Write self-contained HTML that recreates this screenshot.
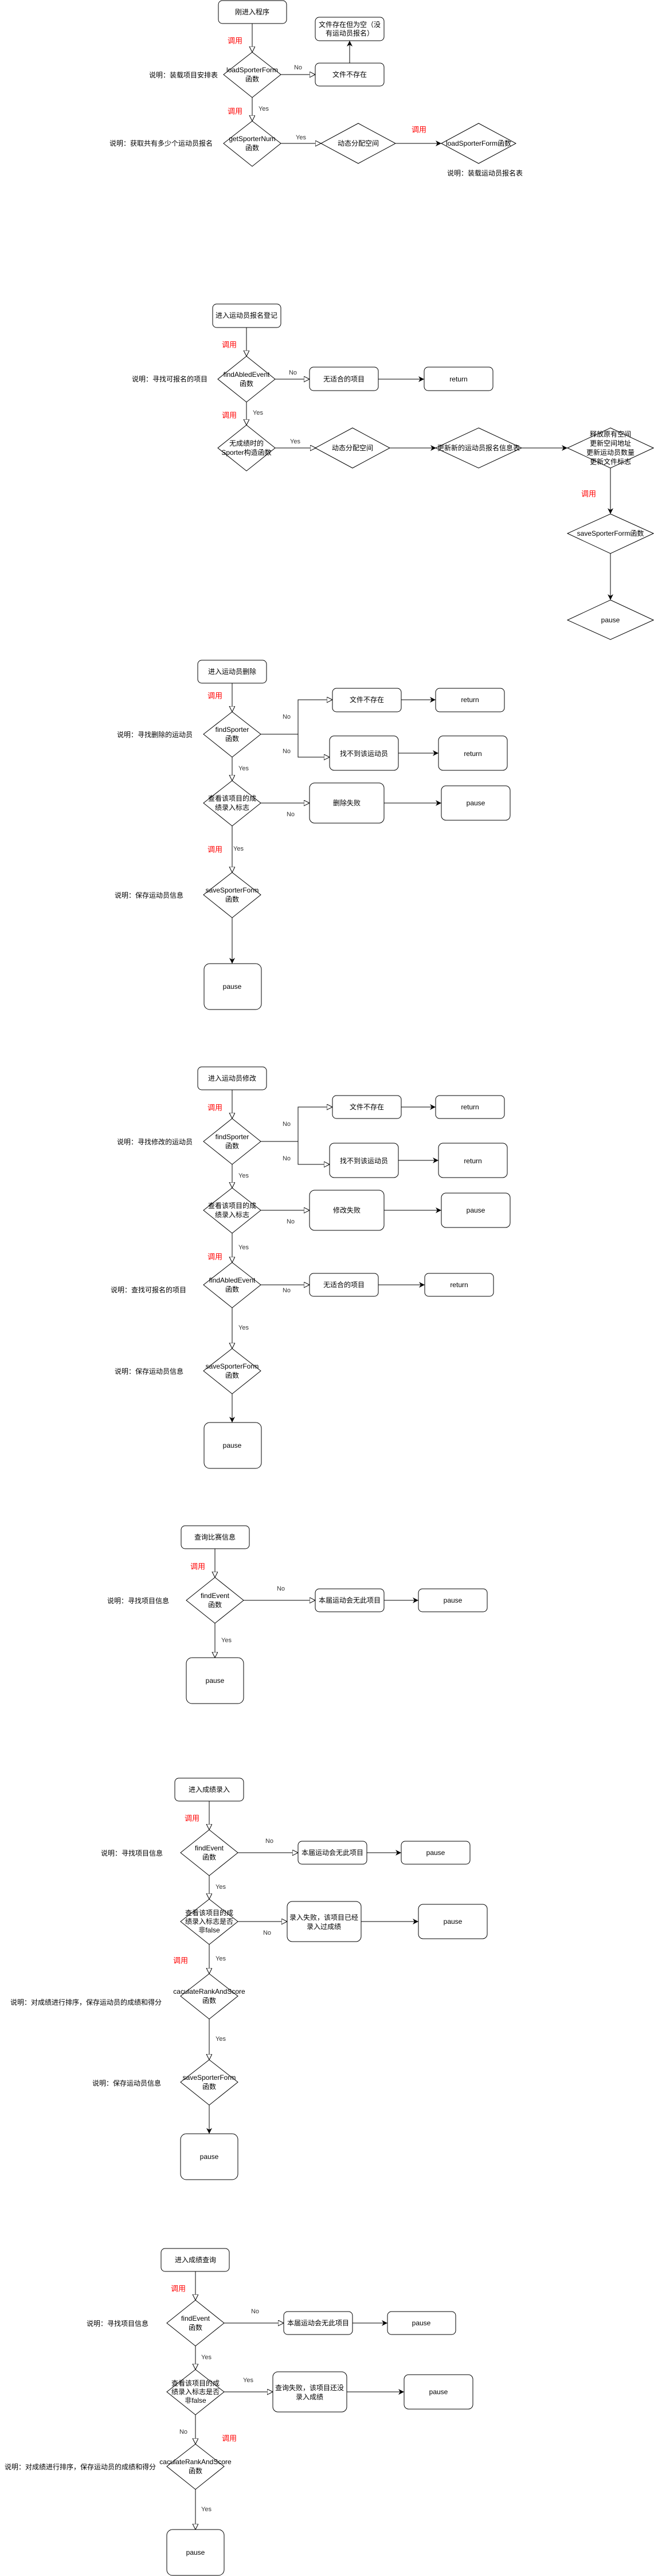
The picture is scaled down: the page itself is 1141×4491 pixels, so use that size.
<!DOCTYPE html>
<html><head><meta charset="utf-8"><style>
html,body{margin:0;padding:0;background:#fff;}
svg{display:block;}
text{font-family:"Liberation Sans","Noto Sans CJK SC",sans-serif;font-size:12px;fill:#000;dominant-baseline:central;}
.c{text-anchor:middle;}
.e{text-anchor:end;}
.r{fill:#ff0000;font-size:13px;}
.l{fill:#333;font-size:11px;}
.s{fill:none;stroke:#000;stroke-width:1;}
.b{fill:#fff;stroke:#000;stroke-width:1;}
</style></head><body>
<svg width="1141" height="4491" viewBox="0 0 1141 4491" xmlns="http://www.w3.org/2000/svg">
<defs>
<marker id="h" markerUnits="userSpaceOnUse" markerWidth="12" markerHeight="12" refX="10" refY="5" orient="auto"><path d="M0,0 L10,5 L0,10 z" fill="#fff" stroke="#000" stroke-width="1"/></marker>
<marker id="f" markerUnits="userSpaceOnUse" markerWidth="12" markerHeight="12" refX="10" refY="5" orient="auto"><path d="M0,0 L10,5 L0,10 L3,5 z" fill="#000"/></marker>
</defs>

<!-- Section 1 -->
<rect class="b" x="381" y="1" width="119" height="40" rx="7"/><text class="c" x="440" y="21">刚进入程序</text>
<line class="s" x1="440" y1="41" x2="440" y2="91" marker-end="url(#h)"/><text class="c r" x="410" y="71">调用</text>
<polygon class="b" points="440,91 490,130 440,170 390,130"/><text class="c" x="440" y="122">loadSporterForm</text><text class="c" x="440" y="138">函数</text>
<text class="e" x="380" y="131">说明：装载项目安排表</text>
<line class="s" x1="490" y1="130" x2="550" y2="130" marker-end="url(#h)"/><text class="c l" x="520" y="118">No</text>
<rect class="b" x="550" y="110" width="120" height="40" rx="7"/><text class="c" x="610" y="130">文件不存在</text>
<line class="s" x1="610" y1="110" x2="610" y2="71" marker-end="url(#f)"/>
<rect class="b" x="550" y="30" width="120" height="41" rx="7"/><text class="c" x="610" y="43">文件存在但为空（没</text><text class="c" x="610" y="58">有运动员报名）</text>
<line class="s" x1="440" y1="170" x2="440" y2="211" marker-end="url(#h)"/><text class="c l" x="460" y="190">Yes</text><text class="c r" x="410" y="194">调用</text>
<polygon class="b" points="440,211 490,250 440,290 390,250"/><text class="c" x="440" y="242">getSporterNum</text><text class="c" x="440" y="258">函数</text>
<text class="e" x="371" y="250">说明：获取共有多少个运动员报名</text>
<line class="s" x1="490" y1="250" x2="560" y2="250" marker-end="url(#h)"/><text class="c l" x="525" y="240">Yes</text>
<polygon class="b" points="625,215 690,250 625,285 560,250"/><text class="c" x="625" y="250">动态分配空间</text>
<line class="s" x1="690" y1="250" x2="770" y2="250" marker-end="url(#f)"/><text class="c r" x="731" y="226">调用</text>
<polygon class="b" points="835,215 900,250 835,285 770,250"/><text class="c" x="835" y="250">loadSporterForm函数</text>
<text x="780" y="302">说明：装载运动员报名表</text>

<!-- Section 2 -->
<rect class="b" x="371" y="530" width="119" height="41" rx="7"/><text class="c" x="430" y="550">进入运动员报名登记</text>
<line class="s" x1="430" y1="571" x2="430" y2="621" marker-end="url(#h)"/><text class="c r" x="400" y="601">调用</text>
<polygon class="b" points="430,621 480,661 430,701 380,661"/><text class="c" x="430" y="653">findAbledEvent</text><text class="c" x="430" y="669">函数</text>
<text class="e" x="362" y="661">说明：寻找可报名的项目</text>
<line class="s" x1="480" y1="661" x2="540" y2="661" marker-end="url(#h)"/><text class="c l" x="511" y="650">No</text>
<rect class="b" x="540" y="640" width="120" height="41" rx="7"/><text class="c" x="600" y="661">无适合的项目</text>
<line class="s" x1="660" y1="661" x2="740" y2="661" marker-end="url(#f)"/>
<rect class="b" x="740" y="640" width="120" height="41" rx="7"/><text class="c" x="800" y="661">return</text>
<line class="s" x1="430" y1="701" x2="430" y2="741" marker-end="url(#h)"/><text class="c l" x="450" y="720">Yes</text><text class="c r" x="400" y="724">调用</text>
<polygon class="b" points="430,741 480,781 430,821 380,781"/><text class="c" x="430" y="773">无成绩时的</text><text class="c" x="430" y="789">Sporter构造函数</text>
<line class="s" x1="480" y1="781" x2="551" y2="781" marker-end="url(#h)"/><text class="c l" x="515" y="770">Yes</text>
<polygon class="b" points="615,746 680,781 615,816 550,781"/><text class="c" x="615" y="781">动态分配空间</text>
<line class="s" x1="680" y1="781" x2="761" y2="781" marker-end="url(#f)"/>
<polygon class="b" points="835,746 910,781 835,816 760,781"/><text class="c" x="835" y="781">更新新的运动员报名信息表</text>
<line class="s" x1="910" y1="781" x2="990" y2="781" marker-end="url(#f)"/>
<polygon class="b" points="1065,746 1140,781 1065,816 990,781"/>
<text class="c" x="1065" y="757">释放原有空间</text><text class="c" x="1065" y="773">更新空间地址</text><text class="c" x="1065" y="789">更新运动员数量</text><text class="c" x="1065" y="805">更新文件标志</text>
<line class="s" x1="1065" y1="816" x2="1065" y2="896" marker-end="url(#f)"/><text class="c r" x="1027" y="861">调用</text>
<polygon class="b" points="1065,896 1140,930 1065,965 990,930"/><text class="c" x="1065" y="930">saveSporterForm函数</text>
<line class="s" x1="1065" y1="965" x2="1065" y2="1046" marker-end="url(#f)"/>
<polygon class="b" points="1065,1046 1140,1081 1065,1115 990,1081"/><text class="c" x="1065" y="1081">pause</text>

<!-- Section 3 删除 -->
<rect class="b" x="345" y="1151" width="120" height="40" rx="7"/><text class="c" x="405" y="1171">进入运动员删除</text>
<line class="s" x1="405" y1="1191" x2="405" y2="1241" marker-end="url(#h)"/><text class="c r" x="375" y="1213">调用</text>
<polygon class="b" points="405,1241 455,1280 405,1320 355,1280"/><text class="c" x="405" y="1272">findSporter</text><text class="c" x="405" y="1288">函数</text>
<text class="e" x="336" y="1281">说明：寻找删除的运动员</text>
<line class="s" x1="455" y1="1280" x2="520" y2="1280"/>
<polyline class="s" points="520,1280 520,1220 580,1220" marker-end="url(#h)"/>
<polyline class="s" points="520,1280 520,1320 575,1320" marker-end="url(#h)"/>
<text class="c l" x="500" y="1250">No</text><text class="c l" x="500" y="1310">No</text>
<rect class="b" x="580" y="1200" width="120" height="41" rx="7"/><text class="c" x="640" y="1220">文件不存在</text>
<line class="s" x1="700" y1="1220" x2="760" y2="1220" marker-end="url(#f)"/>
<rect class="b" x="760" y="1200" width="120" height="41" rx="7"/><text class="c" x="820" y="1220">return</text>
<rect class="b" x="575" y="1283" width="120" height="60" rx="8"/><text class="c" x="635" y="1314">找不到该运动员</text>
<line class="s" x1="695" y1="1313" x2="765" y2="1313" marker-end="url(#f)"/>
<rect class="b" x="765" y="1283" width="120" height="60" rx="8"/><text class="c" x="825" y="1314">return</text>
<line class="s" x1="405" y1="1320" x2="405" y2="1361" marker-end="url(#h)"/><text class="c l" x="425" y="1340">Yes</text>
<polygon class="b" points="405,1361 455,1400 405,1440 355,1400"/><text class="c" x="405" y="1392">查看该项目的成</text><text class="c" x="405" y="1408">绩录入标志</text>
<line class="s" x1="455" y1="1400" x2="540" y2="1400" marker-end="url(#h)"/><text class="c l" x="507" y="1420">No</text>
<rect class="b" x="540" y="1365" width="130" height="70" rx="9"/><text class="c" x="605" y="1400">删除失败</text>
<line class="s" x1="670" y1="1400" x2="770" y2="1400" marker-end="url(#f)"/>
<rect class="b" x="770" y="1370" width="120" height="60" rx="8"/><text class="c" x="830" y="1400">pause</text>
<line class="s" x1="405" y1="1440" x2="405" y2="1521" marker-end="url(#h)"/><text class="l" x="407" y="1480">Yes</text><text class="c r" x="375" y="1481">调用</text>
<polygon class="b" points="405,1521 455,1560 405,1600 355,1560"/><text class="c" x="405" y="1552">saveSporterForm</text><text class="c" x="405" y="1568">函数</text>
<text class="e" x="320" y="1561">说明：保存运动员信息</text>
<line class="s" x1="405" y1="1600" x2="405" y2="1680" marker-end="url(#f)"/>
<rect class="b" x="356" y="1680" width="100" height="80" rx="10"/><text class="c" x="405" y="1720">pause</text>

<!-- Section 4 修改 -->
<rect class="b" x="345" y="1860" width="120" height="40" rx="7"/><text class="c" x="405" y="1880">进入运动员修改</text>
<line class="s" x1="405" y1="1900" x2="405" y2="1950" marker-end="url(#h)"/><text class="c r" x="375" y="1931">调用</text>
<polygon class="b" points="405,1950 455,1990 405,2030 355,1990"/><text class="c" x="405" y="1982">findSporter</text><text class="c" x="405" y="1998">函数</text>
<text class="e" x="336" y="1991">说明：寻找修改的运动员</text>
<line class="s" x1="455" y1="1990" x2="520" y2="1990"/>
<polyline class="s" points="520,1990 520,1930 580,1930" marker-end="url(#h)"/>
<polyline class="s" points="520,1990 520,2030 575,2030" marker-end="url(#h)"/>
<text class="c l" x="500" y="1960">No</text><text class="c l" x="500" y="2020">No</text>
<rect class="b" x="580" y="1910" width="120" height="40" rx="7"/><text class="c" x="640" y="1930">文件不存在</text>
<line class="s" x1="700" y1="1930" x2="760" y2="1930" marker-end="url(#f)"/>
<rect class="b" x="760" y="1910" width="120" height="40" rx="7"/><text class="c" x="820" y="1930">return</text>
<rect class="b" x="575" y="1993" width="120" height="60" rx="8"/><text class="c" x="635" y="2024">找不到该运动员</text>
<line class="s" x1="695" y1="2023" x2="765" y2="2023" marker-end="url(#f)"/>
<rect class="b" x="765" y="1993" width="120" height="60" rx="8"/><text class="c" x="825" y="2024">return</text>
<line class="s" x1="405" y1="2030" x2="405" y2="2071" marker-end="url(#h)"/><text class="c l" x="425" y="2050">Yes</text>
<polygon class="b" points="405,2071 455,2110 405,2150 355,2110"/><text class="c" x="405" y="2102">查看该项目的成</text><text class="c" x="405" y="2118">绩录入标志</text>
<line class="s" x1="455" y1="2110" x2="540" y2="2110" marker-end="url(#h)"/><text class="c l" x="507" y="2130">No</text>
<rect class="b" x="540" y="2075" width="130" height="70" rx="9"/><text class="c" x="605" y="2110">修改失败</text>
<line class="s" x1="670" y1="2110" x2="770" y2="2110" marker-end="url(#f)"/>
<rect class="b" x="770" y="2080" width="120" height="60" rx="8"/><text class="c" x="830" y="2110">pause</text>
<line class="s" x1="405" y1="2150" x2="405" y2="2201" marker-end="url(#h)"/><text class="c l" x="425" y="2175">Yes</text><text class="c r" x="375" y="2191">调用</text>
<polygon class="b" points="405,2201 455,2240 405,2280 355,2240"/><text class="c" x="405" y="2232">findAbledEvent</text><text class="c" x="405" y="2248">函数</text>
<text class="e" x="325" y="2249">说明：查找可报名的项目</text>
<line class="s" x1="455" y1="2240" x2="540" y2="2240" marker-end="url(#h)"/><text class="c l" x="500" y="2250">No</text>
<rect class="b" x="540" y="2220" width="120" height="40" rx="7"/><text class="c" x="600" y="2240">无适合的项目</text>
<line class="s" x1="660" y1="2240" x2="741" y2="2240" marker-end="url(#f)"/>
<rect class="b" x="741" y="2220" width="120" height="40" rx="7"/><text class="c" x="801" y="2240">return</text>
<line class="s" x1="405" y1="2280" x2="405" y2="2351" marker-end="url(#h)"/><text class="c l" x="425" y="2315">Yes</text>
<polygon class="b" points="405,2351 455,2390 405,2430 355,2390"/><text class="c" x="405" y="2382">saveSporterForm</text><text class="c" x="405" y="2398">函数</text>
<text class="e" x="320" y="2391">说明：保存运动员信息</text>
<line class="s" x1="405" y1="2430" x2="405" y2="2480" marker-end="url(#f)"/>
<rect class="b" x="356" y="2480" width="100" height="80" rx="10"/><text class="c" x="405" y="2520">pause</text>

<!-- Section 5 查询比赛信息 -->
<rect class="b" x="316" y="2660" width="119" height="40" rx="7"/><text class="c" x="375" y="2680">查询比赛信息</text>
<line class="s" x1="375" y1="2700" x2="375" y2="2750" marker-end="url(#h)"/><text class="c r" x="345" y="2731">调用</text>
<polygon class="b" points="375,2750 425,2790 375,2830 325,2790"/><text class="c" x="375" y="2782">findEvent</text><text class="c" x="375" y="2798">函数</text>
<text class="e" x="295" y="2791">说明：寻找项目信息</text>
<line class="s" x1="425" y1="2790" x2="550" y2="2790" marker-end="url(#h)"/><text class="c l" x="490" y="2770">No</text>
<rect class="b" x="550" y="2770" width="120" height="40" rx="7"/><text class="c" x="610" y="2790">本届运动会无此项目</text>
<line class="s" x1="670" y1="2790" x2="730" y2="2790" marker-end="url(#f)"/>
<rect class="b" x="730" y="2770" width="120" height="40" rx="7"/><text class="c" x="790" y="2790">pause</text>
<line class="s" x1="375" y1="2830" x2="375" y2="2890" marker-end="url(#h)"/><text class="c l" x="395" y="2860">Yes</text>
<rect class="b" x="325" y="2890" width="100" height="80" rx="10"/><text class="c" x="375" y="2930">pause</text>

<!-- Section 6 成绩录入 -->
<rect class="b" x="305" y="3100" width="120" height="40" rx="7"/><text class="c" x="365" y="3120">进入成绩录入</text>
<line class="s" x1="365" y1="3140" x2="365" y2="3190" marker-end="url(#h)"/><text class="c r" x="335" y="3170">调用</text>
<polygon class="b" points="365,3190 415,3230 365,3270 315,3230"/><text class="c" x="365" y="3222">findEvent</text><text class="c" x="365" y="3238">函数</text>
<text class="e" x="284" y="3231">说明：寻找项目信息</text>
<line class="s" x1="415" y1="3230" x2="520" y2="3230" marker-end="url(#h)"/><text class="c l" x="470" y="3210">No</text>
<rect class="b" x="520" y="3210" width="120" height="40" rx="7"/><text class="c" x="580" y="3230">本届运动会无此项目</text>
<line class="s" x1="640" y1="3230" x2="700" y2="3230" marker-end="url(#f)"/>
<rect class="b" x="700" y="3210" width="120" height="40" rx="7"/><text class="c" x="760" y="3230">pause</text>
<line class="s" x1="365" y1="3270" x2="365" y2="3311" marker-end="url(#h)"/><text class="c l" x="385" y="3290">Yes</text>
<polygon class="b" points="365,3311 415,3350 365,3390 315,3350"/><text class="c" x="365" y="3335">查看该项目的成</text><text class="c" x="365" y="3350">绩录入标志是否</text><text class="c" x="365" y="3365">非false</text>
<line class="s" x1="415" y1="3350" x2="501" y2="3350" marker-end="url(#h)"/><text class="c l" x="466" y="3370">No</text>
<rect class="b" x="501" y="3315" width="129" height="70" rx="9"/><text class="c" x="565" y="3343">录入失败，该项目已经</text><text class="c" x="565" y="3359">录入过成绩</text>
<line class="s" x1="630" y1="3350" x2="730" y2="3350" marker-end="url(#f)"/>
<rect class="b" x="730" y="3320" width="120" height="60" rx="8"/><text class="c" x="790" y="3350">pause</text>
<line class="s" x1="365" y1="3390" x2="365" y2="3441" marker-end="url(#h)"/><text class="c l" x="385" y="3415">Yes</text><text class="c r" x="315" y="3418">调用</text>
<polygon class="b" points="365,3441 415,3480 365,3520 315,3480"/><text class="c" x="365" y="3472">caculateRankAndScore</text><text class="c" x="365" y="3488">函数</text>
<text class="e" x="282" y="3491">说明：对成绩进行排序，保存运动员的成绩和得分</text>
<line class="s" x1="365" y1="3520" x2="365" y2="3591" marker-end="url(#h)"/><text class="c l" x="385" y="3555">Yes</text>
<polygon class="b" points="365,3591 415,3630 365,3670 315,3630"/><text class="c" x="365" y="3622">saveSporterForm</text><text class="c" x="365" y="3638">函数</text>
<text class="e" x="281" y="3632">说明：保存运动员信息</text>
<line class="s" x1="365" y1="3670" x2="365" y2="3720" marker-end="url(#f)"/>
<rect class="b" x="315" y="3720" width="100" height="80" rx="10"/><text class="c" x="365" y="3760">pause</text>

<!-- Section 7 成绩查询 -->
<rect class="b" x="281" y="3920" width="119" height="40" rx="7"/><text class="c" x="341" y="3940">进入成绩查询</text>
<line class="s" x1="341" y1="3960" x2="341" y2="4010" marker-end="url(#h)"/><text class="c r" x="311" y="3990">调用</text>
<polygon class="b" points="341,4010 391,4050 341,4090 291,4050"/><text class="c" x="341" y="4042">findEvent</text><text class="c" x="341" y="4058">函数</text>
<text class="e" x="259" y="4051">说明：寻找项目信息</text>
<line class="s" x1="391" y1="4050" x2="495" y2="4050" marker-end="url(#h)"/><text class="c l" x="445" y="4030">No</text>
<rect class="b" x="495" y="4030" width="120" height="40" rx="7"/><text class="c" x="555" y="4050">本届运动会无此项目</text>
<line class="s" x1="615" y1="4050" x2="676" y2="4050" marker-end="url(#f)"/>
<rect class="b" x="676" y="4030" width="119" height="40" rx="7"/><text class="c" x="735" y="4050">pause</text>
<line class="s" x1="341" y1="4090" x2="341" y2="4131" marker-end="url(#h)"/><text class="c l" x="360" y="4110">Yes</text>
<polygon class="b" points="341,4131 391,4170 341,4210 291,4170"/><text class="c" x="341" y="4155">查看该项目的成</text><text class="c" x="341" y="4170">绩录入标志是否</text><text class="c" x="341" y="4185">非false</text>
<line class="s" x1="391" y1="4170" x2="476" y2="4170" marker-end="url(#h)"/><text class="c l" x="433" y="4150">Yes</text>
<rect class="b" x="476" y="4135" width="129" height="70" rx="9"/><text class="c" x="540" y="4163">查询失败，该项目还没</text><text class="c" x="540" y="4179">录入成绩</text>
<line class="s" x1="605" y1="4170" x2="705" y2="4170" marker-end="url(#f)"/>
<rect class="b" x="705" y="4140" width="120" height="60" rx="8"/><text class="c" x="765" y="4170">pause</text>
<line class="s" x1="341" y1="4210" x2="341" y2="4261" marker-end="url(#h)"/><text class="c l" x="320" y="4240">No</text><text class="c r" x="400" y="4251">调用</text>
<polygon class="b" points="341,4261 391,4300 341,4340 291,4300"/><text class="c" x="341" y="4292">caculateRankAndScore</text><text class="c" x="341" y="4308">函数</text>
<text class="e" x="272" y="4301">说明：对成绩进行排序，保存运动员的成绩和得分</text>
<line class="s" x1="341" y1="4340" x2="341" y2="4410" marker-end="url(#h)"/><text class="c l" x="360" y="4375">Yes</text>
<rect class="b" x="291" y="4410" width="100" height="80" rx="10"/><text class="c" x="341" y="4450">pause</text>
</svg>
</body></html>
